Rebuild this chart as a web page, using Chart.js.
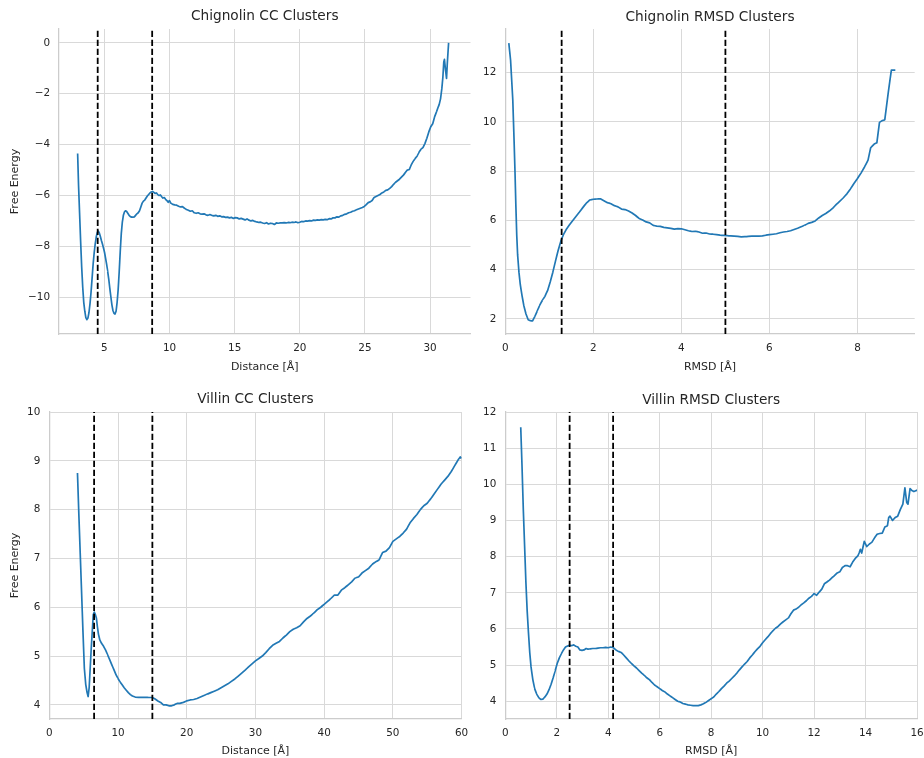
<!DOCTYPE html>
<html><head><meta charset="utf-8">
<script src="https://cdn.jsdelivr.net/npm/chart.js@4.4.1/dist/chart.umd.min.js"></script>
<style>
html,body{margin:0;padding:0;background:#fff;overflow:hidden;}
#fig{position:relative;width:924px;height:758px;overflow:hidden;background:#fff;}
#fig canvas{position:absolute;}
</style></head>
<body><div id="fig">
<canvas id="c1"></canvas><canvas id="c2"></canvas><canvas id="c3"></canvas><canvas id="c4"></canvas>
</div>
<script>
// ---------------- DATA ----------------
// Chignolin CC clusters
const chigCC_x = [2.95,3.02,3.10,3.18,3.26,3.34,3.42,3.50,3.58,3.66,3.74,3.82,3.90,3.98,4.06,4.14,4.22,4.30,4.38,4.46,4.54,4.62,4.70,4.78,4.86,4.94,5.02,5.10,5.18,5.26,5.34,5.42,5.50,5.58,5.66,5.74,5.82,5.90,5.98,6.06,6.14,6.22,6.30,6.38,6.46,6.54,6.62,6.70,6.80,6.90,7.00,7.10,7.20,7.30,7.40,7.50,7.60,7.70,7.80,7.90,8.00,8.10,8.20,8.30,8.40,8.50,8.60,8.70,8.80,8.90,9.00,9.10,9.20,9.30,9.40,9.50,9.60,9.70,9.80,9.90,10.00,10.10,10.25,10.40,10.55,10.70,10.85,11.00,11.15,11.30,11.45,11.60,11.75,11.90,12.05,12.20,12.35,12.50,12.65,12.80,12.95,13.10,13.25,13.40,13.55,13.70,13.85,14.00,14.15,14.30,14.45,14.60,14.75,14.90,15.05,15.20,15.35,15.50,15.65,15.80,15.95,16.10,16.25,16.40,16.55,16.70,16.85,17.00,17.15,17.30,17.45,17.60,17.75,17.90,18.05,18.20,18.35,18.50,18.65,18.80,18.95,19.10,19.25,19.40,19.55,19.70,19.85,20.00,20.15,20.30,20.45,20.60,20.75,20.90,21.05,21.20,21.35,21.50,21.65,21.80,21.95,22.10,22.25,22.40,22.55,22.70,22.85,23.00,23.15,23.30,23.45,23.60,23.75,23.90,24.05,24.20,24.35,24.50,24.65,24.80,24.95,25.10,25.25,25.40,25.55,25.70,25.85,26.00,26.15,26.30,26.45,26.60,26.75,26.90,27.05,27.20,27.35,27.50,27.65,27.80,27.95,28.10,28.25,28.40,28.55,28.70,28.85,29.00,29.15,29.30,29.45,29.60,29.75,29.90,30.05,30.20,30.35,30.50,30.60,30.70,30.80,30.90,30.98,31.05,31.10,31.18,31.26,31.32,31.42];
const chigCC_y = [-4.35,-5.6,-6.7,-7.8,-8.8,-9.6,-10.2,-10.55,-10.8,-10.88,-10.82,-10.6,-10.25,-9.8,-9.25,-8.7,-8.25,-7.9,-7.62,-7.45,-7.40,-7.48,-7.62,-7.78,-7.92,-8.08,-8.25,-8.48,-8.72,-9.0,-9.3,-9.65,-9.98,-10.3,-10.52,-10.63,-10.66,-10.55,-10.2,-9.7,-9.0,-8.2,-7.5,-7.05,-6.78,-6.65,-6.6,-6.62,-6.7,-6.78,-6.83,-6.85,-6.85,-6.84,-6.78,-6.72,-6.68,-6.6,-6.45,-6.3,-6.22,-6.18,-6.1,-6.02,-5.96,-5.9,-5.86,-5.84,-5.88,-5.92,-5.9,-5.97,-6.0,-5.98,-6.05,-6.1,-6.08,-6.15,-6.2,-6.27,-6.2,-6.3,-6.35,-6.37,-6.38,-6.42,-6.45,-6.44,-6.5,-6.55,-6.58,-6.62,-6.6,-6.68,-6.7,-6.68,-6.72,-6.73,-6.72,-6.76,-6.78,-6.75,-6.78,-6.8,-6.78,-6.82,-6.8,-6.84,-6.83,-6.86,-6.85,-6.88,-6.86,-6.9,-6.87,-6.88,-6.92,-6.9,-6.93,-6.96,-6.92,-6.97,-7.0,-6.98,-7.02,-7.04,-7.06,-7.05,-7.08,-7.1,-7.07,-7.12,-7.09,-7.1,-7.14,-7.08,-7.09,-7.08,-7.08,-7.07,-7.08,-7.06,-7.07,-7.05,-7.06,-7.04,-7.07,-7.05,-7.02,-7.03,-7.0,-7.01,-6.99,-7.0,-6.97,-6.98,-6.96,-6.97,-6.95,-6.96,-6.94,-6.95,-6.91,-6.92,-6.88,-6.88,-6.84,-6.85,-6.8,-6.78,-6.74,-6.72,-6.68,-6.66,-6.62,-6.6,-6.56,-6.53,-6.5,-6.47,-6.43,-6.36,-6.28,-6.25,-6.2,-6.08,-6.04,-6.0,-5.96,-5.9,-5.86,-5.8,-5.78,-5.72,-5.65,-5.56,-5.48,-5.42,-5.36,-5.28,-5.2,-5.1,-5.0,-4.98,-4.8,-4.66,-4.55,-4.45,-4.3,-4.18,-4.12,-3.96,-3.75,-3.5,-3.3,-3.18,-2.9,-2.7,-2.55,-2.42,-2.2,-1.8,-1.35,-0.75,-0.65,-1.05,-1.4,-0.8,0.0];
const chigCC_cuts = [4.49, 8.67];
const chigCC_xticks = [5,10,15,20,25,30];
const chigCC_yticks = [-10,-8,-6,-4,-2,0];

// Chignolin RMSD clusters
const chigRMSD_x = [0.08,0.12,0.17,0.20,0.22,0.24,0.26,0.28,0.31,0.34,0.38,0.42,0.47,0.52,0.57,0.62,0.67,0.72,0.78,0.84,0.90,0.96,1.02,1.08,1.14,1.20,1.26,1.32,1.38,1.45,1.52,1.60,1.68,1.76,1.84,1.92,2.00,2.08,2.16,2.24,2.32,2.40,2.48,2.56,2.64,2.72,2.80,2.88,2.96,3.04,3.12,3.20,3.28,3.36,3.44,3.52,3.60,3.68,3.76,3.84,3.92,4.00,4.08,4.16,4.24,4.32,4.40,4.48,4.56,4.64,4.72,4.80,4.88,4.96,5.04,5.12,5.20,5.28,5.36,5.44,5.52,5.60,5.68,5.76,5.84,5.92,6.00,6.08,6.16,6.24,6.32,6.40,6.48,6.56,6.64,6.72,6.80,6.88,6.96,7.04,7.12,7.20,7.28,7.36,7.44,7.52,7.60,7.68,7.76,7.84,7.92,8.00,8.08,8.16,8.24,8.30,8.38,8.44,8.50,8.56,8.62,8.70,8.77,8.86];
const chigRMSD_y = [13.2,12.5,10.9,9.2,8.0,6.6,5.4,4.6,3.9,3.4,2.95,2.55,2.2,1.97,1.93,1.92,2.1,2.3,2.55,2.75,2.92,3.15,3.5,3.9,4.35,4.78,5.15,5.42,5.62,5.8,5.97,6.15,6.33,6.52,6.7,6.83,6.86,6.87,6.88,6.8,6.72,6.68,6.6,6.55,6.46,6.44,6.38,6.3,6.2,6.08,6.02,5.94,5.9,5.8,5.77,5.76,5.72,5.7,5.68,5.65,5.67,5.66,5.62,5.58,5.55,5.56,5.53,5.48,5.49,5.45,5.44,5.42,5.4,5.39,5.38,5.37,5.36,5.35,5.33,5.34,5.35,5.36,5.36,5.36,5.37,5.4,5.42,5.44,5.46,5.5,5.53,5.55,5.58,5.63,5.68,5.74,5.8,5.88,5.92,5.98,6.1,6.2,6.28,6.38,6.5,6.65,6.78,6.92,7.08,7.28,7.5,7.7,7.92,8.17,8.45,8.95,9.1,9.15,9.98,10.05,10.08,11.2,12.1,12.1];
const chigRMSD_cuts = [1.28, 5.0];
const chigRMSD_xticks = [0,2,4,6,8];
const chigRMSD_yticks = [2,4,6,8,10,12];

// Villin CC clusters
const villCC_x = [4.1,4.3,4.5,4.7,4.9,5.1,5.3,5.5,5.65,5.8,5.95,6.1,6.25,6.4,6.55,6.7,6.85,7.0,7.15,7.35,7.6,7.9,8.2,8.5,8.8,9.1,9.4,9.7,10.0,10.3,10.6,10.9,11.2,11.5,11.8,12.1,12.5,13.0,13.5,14.0,14.5,15.0,15.4,15.8,16.2,16.6,17.0,17.4,17.8,18.2,18.6,19.0,19.5,20.0,20.5,21.0,21.5,22.0,22.5,23.0,23.5,24.0,24.5,25.0,25.5,26.0,26.5,27.0,27.5,28.0,28.5,29.0,29.5,30.0,30.5,31.0,31.5,32.0,32.5,33.0,33.5,34.0,34.5,35.0,35.5,36.0,36.5,37.0,37.5,38.0,38.5,39.0,39.5,40.0,40.5,41.0,41.5,42.0,42.5,43.0,43.5,44.0,44.5,45.0,45.5,46.0,46.5,47.0,47.5,48.0,48.5,49.0,49.5,50.0,50.5,51.0,51.5,52.0,52.5,53.0,53.5,54.0,54.5,55.0,55.5,56.0,56.5,57.0,57.5,58.0,58.5,59.0,59.5,59.8,60.0];
const villCC_y = [8.75,7.9,7.1,6.3,5.5,4.75,4.42,4.25,4.17,4.35,4.75,5.15,5.5,5.85,5.9,5.85,5.78,5.6,5.45,5.33,5.26,5.2,5.12,5.02,4.92,4.82,4.72,4.62,4.54,4.47,4.41,4.35,4.3,4.25,4.21,4.18,4.16,4.155,4.155,4.155,4.15,4.15,4.12,4.08,4.05,4.0,4.0,3.98,3.98,4.0,4.03,4.03,4.05,4.08,4.1,4.11,4.13,4.16,4.19,4.22,4.25,4.28,4.31,4.35,4.39,4.43,4.48,4.53,4.59,4.65,4.71,4.78,4.84,4.9,4.95,5.0,5.07,5.15,5.22,5.26,5.3,5.37,5.43,5.5,5.55,5.58,5.62,5.7,5.77,5.82,5.88,5.95,6.0,6.06,6.12,6.18,6.25,6.25,6.35,6.4,6.46,6.52,6.6,6.62,6.7,6.75,6.8,6.88,6.93,6.97,7.12,7.15,7.22,7.35,7.4,7.45,7.52,7.6,7.73,7.82,7.9,8.0,8.08,8.13,8.22,8.32,8.42,8.52,8.6,8.68,8.78,8.9,9.02,9.08,9.05];
const villCC_cuts = [6.52, 15.0];
const villCC_xticks = [0,10,20,30,40,50,60];
const villCC_yticks = [4,5,6,7,8,9,10];

// Villin RMSD clusters
const villRMSD_x = [0.60,0.65,0.70,0.75,0.80,0.85,0.90,0.95,1.00,1.07,1.14,1.22,1.30,1.38,1.46,1.54,1.62,1.70,1.78,1.86,1.94,2.02,2.10,2.18,2.26,2.34,2.42,2.50,2.58,2.66,2.74,2.82,2.90,2.98,3.06,3.14,3.22,3.30,3.40,3.50,3.60,3.70,3.80,3.90,4.00,4.10,4.20,4.30,4.40,4.50,4.60,4.70,4.80,4.90,5.00,5.10,5.20,5.30,5.40,5.50,5.60,5.70,5.80,5.90,6.00,6.10,6.20,6.30,6.40,6.50,6.60,6.70,6.80,6.90,7.00,7.10,7.20,7.30,7.40,7.50,7.60,7.70,7.80,7.90,8.00,8.10,8.20,8.30,8.40,8.50,8.60,8.70,8.80,8.90,9.00,9.10,9.20,9.30,9.40,9.50,9.60,9.70,9.80,9.90,10.00,10.10,10.20,10.30,10.40,10.50,10.60,10.70,10.80,10.90,11.00,11.10,11.20,11.30,11.40,11.50,11.60,11.70,11.80,11.90,12.00,12.10,12.20,12.30,12.40,12.50,12.60,12.70,12.80,12.90,13.00,13.10,13.20,13.30,13.40,13.50,13.60,13.70,13.75,13.80,13.85,13.95,14.05,14.15,14.25,14.35,14.45,14.55,14.65,14.75,14.85,14.90,14.95,15.05,15.15,15.25,15.35,15.45,15.53,15.60,15.65,15.73,15.80,15.88,15.95,16.05];
const villRMSD_y = [11.58,10.5,9.3,8.3,7.3,6.5,5.9,5.35,4.95,4.6,4.35,4.2,4.1,4.05,4.06,4.12,4.2,4.32,4.47,4.65,4.85,5.05,5.2,5.32,5.42,5.5,5.53,5.55,5.54,5.56,5.52,5.5,5.42,5.41,5.42,5.46,5.44,5.45,5.46,5.46,5.47,5.48,5.48,5.49,5.48,5.5,5.48,5.42,5.38,5.35,5.28,5.2,5.12,5.05,4.98,4.92,4.85,4.78,4.72,4.65,4.6,4.52,4.45,4.4,4.35,4.3,4.26,4.2,4.15,4.1,4.05,4.0,3.98,3.94,3.92,3.9,3.89,3.88,3.88,3.88,3.9,3.93,3.97,4.02,4.07,4.12,4.2,4.27,4.35,4.42,4.5,4.56,4.63,4.7,4.78,4.87,4.95,5.03,5.1,5.2,5.28,5.37,5.45,5.52,5.62,5.7,5.78,5.87,5.95,6.02,6.07,6.14,6.2,6.25,6.3,6.42,6.52,6.55,6.6,6.67,6.72,6.78,6.85,6.9,6.98,6.93,7.02,7.1,7.25,7.3,7.35,7.42,7.48,7.55,7.58,7.7,7.75,7.75,7.72,7.85,7.95,8.02,8.1,8.2,8.1,8.42,8.28,8.35,8.4,8.52,8.62,8.64,8.65,8.82,8.85,9.08,9.12,9.0,9.08,9.12,9.3,9.45,9.9,9.5,9.45,9.88,9.83,9.8,9.82,9.85];
const villRMSD_cuts = [2.50, 4.19];
const villRMSD_xticks = [0,2,4,6,8,10,12,14,16];
const villRMSD_yticks = [4,5,6,7,8,9,10,11,12];

// ---------------- STYLE / RENDER ----------------
const FONT = "'DejaVu Sans', 'Liberation Sans', sans-serif";
const TXT = '#262626';
const LINE = '#2178b5';
Chart.defaults.font.family = FONT;
Chart.defaults.color = TXT;

const fmt = v => (v < 0 ? '\u2212' + Math.abs(v) : String(v));

const cutPlugin = {
  id: 'cuts',
  afterDatasetsDraw(chart, args, opts) {
    const {ctx, chartArea} = chart;
    const xs = chart.scales.x;
    ctx.save();
    ctx.beginPath();
    ctx.rect(chartArea.left, chartArea.top, chartArea.right - chartArea.left, chartArea.bottom - chartArea.top);
    ctx.clip();
    ctx.strokeStyle = '#000';
    ctx.lineWidth = 1.8;
    ctx.setLineDash([6.3, 2.7]);
    for (const v of (opts.values || [])) {
      const px = xs.getPixelForValue(v);
      ctx.beginPath();
      ctx.moveTo(px, chartArea.bottom);
      ctx.lineTo(px, chartArea.top);
      ctx.stroke();
    }
    ctx.restore();
  }
};

function makeChart(id, box, s) {
  const cv = document.getElementById(id);
  cv.width = box.cw; cv.height = box.ch;
  cv.style.left = box.cx + 'px'; cv.style.top = box.cy + 'px';
  cv.style.width = box.cw + 'px'; cv.style.height = box.ch + 'px';
  const yAxisW = box.left - box.cx;
  const xAxisH = box.cy + box.ch - box.bottom;
  const titleH = box.top - box.cy;
  const titleSize = 13.7, titleLH = titleSize * 1.2;
  const tPadTop = box.titleY - box.cy - titleLH / 2;
  const tPadBot = titleH - tPadTop - titleLH;
  const labSize = 11, labLH = labSize * 1.2;
  const xLabPadBot = (box.cy + box.ch - box.xLabelY) - labLH / 2;
  const yLabPadTop = (box.yLabelX - box.cx) - labLH / 2;
  const pts = s.xs.map((x, i) => ({x: x, y: s.ys[i]}));
  const grid = {color: '#d9d9d9', lineWidth: 1, drawTicks: false};
  const border = {display: true, color: '#cccccc', width: 1.25};
  return new Chart(cv, {
    type: 'line',
    data: {datasets: [{data: pts, borderColor: LINE, borderWidth: 1.7, pointRadius: 0, tension: 0.000001,
      borderJoinStyle: 'round', borderCapStyle: 'butt', fill: false}]},
    options: {
      responsive: false, animation: false, devicePixelRatio: 1,
      layout: {padding: {left: 0, top: 0, bottom: 0, right: box.cx + box.cw - box.right}},
      plugins: {
        legend: {display: false}, tooltip: {enabled: false},
        title: {display: true, text: s.title, fullSize: false, color: TXT,
          font: {family: FONT, size: titleSize, weight: 'normal'},
          padding: {top: tPadTop, bottom: tPadBot}},
        cuts: {values: s.cuts}
      },
      scales: {
        x: {
          type: 'linear', position: 'bottom', min: s.xmin, max: s.xmax, bounds: 'data',
          grid: grid, border: border,
          ticks: {color: TXT, font: {size: 10.4}, padding: 7.8, maxRotation: 0, autoSkip: false, callback: fmt},
          afterBuildTicks: sc => { sc.ticks = s.xticks.map(v => ({value: v})); },
          afterFit: sc => { sc.height = xAxisH; },
          title: {display: true, text: s.xlabel, color: TXT, font: {size: labSize}, padding: {top: 0, bottom: xLabPadBot}}
        },
        y: {
          type: 'linear', position: 'left', min: s.ymin, max: s.ymax, bounds: 'data',
          grid: grid, border: border,
          ticks: {color: TXT, font: {size: 10.4}, padding: 9, autoSkip: false, callback: fmt},
          afterBuildTicks: sc => { sc.ticks = s.yticks.map(v => ({value: v})); },
          afterFit: sc => { sc.width = yAxisW; },
          title: {display: !!s.ylabel, text: s.ylabel || '', color: TXT, font: {size: labSize}, padding: {top: yLabPadTop, bottom: 0}}
        }
      }
    },
    plugins: [cutPlugin]
  });
}

makeChart('c1', {cx: 0, cy: 0, cw: 476, ch: 379, left: 59, right: 470.5, top: 29, bottom: 334, titleY: 16.7, xLabelY: 366.7, yLabelX: 15},
  {title: 'Chignolin CC Clusters', xlabel: 'Distance [Å]', ylabel: 'Free Energy',
   xs: chigCC_x, ys: chigCC_y, cuts: chigCC_cuts, xticks: chigCC_xticks, yticks: chigCC_yticks,
   xmin: 1.52, xmax: 33.1, ymin: -11.445, ymax: 0.545});

makeChart('c2', {cx: 476, cy: 0, cw: 460, ch: 379, left: 505.3, right: 914.7, top: 29, bottom: 334, titleY: 17.3, xLabelY: 366.7, yLabelX: 490},
  {title: 'Chignolin RMSD Clusters', xlabel: 'RMSD [Å]', ylabel: '',
   xs: chigRMSD_x, ys: chigRMSD_y, cuts: chigRMSD_cuts, xticks: chigRMSD_xticks, yticks: chigRMSD_yticks,
   xmin: 0, xmax: 9.3, ymin: 1.39, ymax: 13.77});

makeChart('c3', {cx: 0, cy: 379, cw: 476, ch: 379, left: 49.3, right: 463.3, top: 412, bottom: 719, titleY: 399.5, xLabelY: 751, yLabelX: 15},
  {title: 'Villin CC Clusters', xlabel: 'Distance [Å]', ylabel: 'Free Energy',
   xs: villCC_x, ys: villCC_y, cuts: villCC_cuts, xticks: villCC_xticks, yticks: villCC_yticks,
   xmin: 0, xmax: 60, ymin: 3.71, ymax: 10});

makeChart('c4', {cx: 476, cy: 379, cw: 460, ch: 379, left: 505.3, right: 917, top: 412, bottom: 719, titleY: 400, xLabelY: 751, yLabelX: 490},
  {title: 'Villin RMSD Clusters', xlabel: 'RMSD [Å]', ylabel: '',
   xs: villRMSD_x, ys: villRMSD_y, cuts: villRMSD_cuts, xticks: villRMSD_xticks, yticks: villRMSD_yticks,
   xmin: 0, xmax: 16, ymin: 3.51, ymax: 12});
</script>
</body></html>
